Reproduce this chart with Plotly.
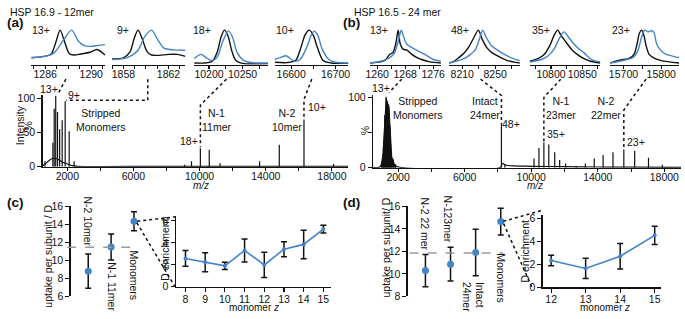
import plotly.graph_objects as go

W, H = 685, 319
FONT = "Liberation Sans, Arial, Helvetica, sans-serif"
BLUE = "#4384c9"
BLACK = "#111111"
GRAY = "#9a9a9a"

# ---------------- data ----------------
# (a) HSP 16.9 12mer full spectrum: peak m/z and relative intensity (%)
a_peak_mz = [650, 1127, 1207, 1300, 1408, 1536, 1690, 1872, 2112, 2413,
             9092, 9510, 10047, 10583, 11240, 13627, 14820, 16312, 18100]
a_peak_int = [8, 35, 85, 104, 80, 55, 68, 96, 52, 8,
              3, 8, 27, 25, 5, 8, 32, 69, 4]
a_base_mz = [500, 700, 900, 1100, 1300, 1500, 1700, 1900, 2100, 2300, 2600, 8000, 12000, 19000]
a_base_int = [1, 5, 9, 12, 12, 10, 7, 5, 3, 1.5, 0.6, 0.6, 0.6, 0.4]

# (b) HSP 16.5 24mer full spectrum
b_peak_mz = [1050, 1120, 1200, 1280, 1350, 1430, 1510, 1600, 1720, 1850, 8210, 8420,
             10168, 10464, 10761, 11057, 11413, 11710, 12066, 12700,
             13252, 13786, 14320, 14913, 15565, 16217, 17048, 17878]
b_peak_int = [10, 30, 75, 101, 95, 90, 60, 22, 12, 5, 64, 5,
              13, 28, 36, 33, 22, 11, 6, 2,
              6, 13, 18, 22, 26, 24, 14, 4]
# unresolved monomer envelope (filled)
b_env_mz = [980, 1040, 1100, 1150, 1200, 1250, 1290, 1340, 1400, 1460, 1510, 1560, 1620, 1700, 1780, 1860]
b_env_int = [0, 8, 22, 45, 70, 92, 99, 94, 91, 86, 62, 30, 16, 10, 5, 0]
b_base_mz = [500, 900, 1000, 1150, 1300, 1450, 1600, 1750, 1900, 2100, 8150, 8260, 8500,
             9000, 10000, 12000, 14000, 16000, 19000]
b_base_int = [0.5, 1, 5, 12, 15, 14, 10, 5, 2, 0.6, 0.6, 6, 3.5, 2.5, 2, 1.5, 1, 0.8, 0.3]

# insets (a): black = before, blue = after exchange (normalised)
a1_k_mz = [1284.8, 1285.9, 1286.5, 1286.9, 1287.3, 1287.7, 1288.1, 1288.5, 1289.1, 1289.9, 1290.5, 1291.2]
a1_k_i = [0.2, 0.24, 0.3, 0.62, 1.0, 0.65, 0.32, 0.28, 0.31, 0.36, 0.44, 0.28]
a1_b_mz = [1284.8, 1286.0, 1286.8, 1287.6, 1288.3, 1288.9, 1289.4, 1290.0, 1290.6, 1291.2]
a1_b_i = [0.21, 0.24, 0.35, 0.72, 1.0, 0.68, 0.55, 0.53, 0.56, 0.58]

a2_k_mz = [1857.0, 1858.0, 1858.6, 1858.95, 1859.3, 1859.7, 1860.1, 1860.5, 1861.0, 1862.0, 1862.8, 1863.5]
a2_k_i = [0.17, 0.2, 0.38, 0.75, 1.0, 0.72, 0.38, 0.28, 0.27, 0.3, 0.3, 0.24]
a2_b_mz = [1857.0, 1858.3, 1859.3, 1859.9, 1860.5, 1861.0, 1861.6, 1862.5, 1863.5]
a2_b_i = [0.15, 0.2, 0.42, 0.82, 1.0, 0.75, 0.48, 0.43, 0.42]

a3_k_mz = [10178, 10195, 10205, 10212, 10218, 10223, 10228, 10234, 10240, 10250, 10288]
a3_k_i = [0.05, 0.05, 0.1, 0.35, 0.8, 1.0, 0.85, 0.4, 0.12, 0.04, 0.03]
a3_b_mz = [10178, 10188, 10196, 10205, 10213, 10220, 10229, 10235, 10242, 10252, 10265, 10288]
a3_b_i = [0.18, 0.3, 0.2, 0.12, 0.25, 0.65, 0.98, 0.8, 0.35, 0.12, 0.06, 0.05]

a4_k_mz = [16563, 16590, 16610, 16622, 16632, 16641, 16650, 16659, 16672, 16690, 16729]
a4_k_i = [0.07, 0.06, 0.12, 0.5, 0.88, 1.0, 0.85, 0.5, 0.12, 0.05, 0.04]
a4_b_mz = [16563, 16578, 16588, 16598, 16607, 16620, 16635, 16645, 16652, 16660, 16670, 16685, 16700, 16729]
a4_b_i = [0.15, 0.22, 0.26, 0.18, 0.1, 0.15, 0.5, 0.85, 0.97, 0.85, 0.45, 0.15, 0.07, 0.05]

# insets (b)
b1_k_mz = [1258, 1261, 1262.5, 1263.6, 1264.5, 1265.3, 1266.0, 1266.6, 1267.4, 1268.5, 1269.9, 1271.5, 1272.7, 1275, 1278.2]
b1_k_i = [0.05, 0.08, 0.15, 0.3, 0.35, 0.6, 1.0, 0.6, 0.45, 0.42, 0.3, 0.2, 0.15, 0.08, 0.05]
b1_b_mz = [1258, 1261, 1263.6, 1265.0, 1266.2, 1266.9, 1267.6, 1268.4, 1270.7, 1273.6, 1276, 1278.2]
b1_b_i = [0.05, 0.1, 0.2, 0.35, 0.75, 1.0, 0.8, 0.6, 0.45, 0.3, 0.15, 0.1]

b2_k_mz = [8194, 8200, 8205.6, 8212, 8217.6, 8224, 8229.6, 8234, 8239.6, 8246, 8253.5, 8265, 8280]
b2_k_i = [0.05, 0.1, 0.2, 0.33, 0.5, 0.78, 1.0, 0.75, 0.5, 0.35, 0.25, 0.12, 0.05]
b2_b_mz = [8194, 8205, 8214, 8220, 8225.6, 8231, 8234.8, 8239, 8245.6, 8251, 8257.6, 8269.6, 8280]
b2_b_i = [0.05, 0.12, 0.2, 0.3, 0.42, 0.75, 1.0, 0.8, 0.55, 0.45, 0.35, 0.2, 0.12]

b3_k_mz = [10766, 10780, 10789.5, 10798, 10805, 10810.5, 10816, 10826.3, 10834, 10842, 10852, 10863, 10879]
b3_k_i = [0.1, 0.18, 0.3, 0.55, 0.85, 1.0, 0.85, 0.6, 0.42, 0.3, 0.18, 0.1, 0.05]
b3_b_mz = [10766, 10785, 10795, 10805, 10813, 10820.9, 10828, 10836.7, 10845, 10852.4, 10865, 10879]
b3_b_i = [0.08, 0.15, 0.25, 0.45, 0.75, 0.95, 0.8, 0.6, 0.45, 0.35, 0.15, 0.08]

b4_k_mz = [15665, 15685, 15700, 15715, 15728, 15736, 15742, 15748, 15754, 15760, 15768, 15780, 15800, 15848]
b4_k_i = [0.05, 0.12, 0.15, 0.18, 0.3, 0.6, 0.9, 1.0, 0.85, 0.55, 0.3, 0.2, 0.12, 0.05]
b4_b_mz = [15665, 15690, 15710, 15725, 15738, 15748, 15756, 15765, 15772, 15780, 15788, 15800, 15813, 15830, 15848]
b4_b_i = [0.05, 0.1, 0.15, 0.2, 0.4, 0.8, 1.0, 0.95, 0.98, 0.95, 0.6, 0.4, 0.3, 0.25, 0.2]

# (c) uptake per subunit
c_labels = ["N-2 10mer", "N-1 11mer", "Monomers"]
c_uptake = [8.8, 11.5, 14.35]
c_uptake_err = [1.9, 1.45, 1.05]
c_average = 11.46
c_z = [8, 9, 10, 11, 12, 13, 14, 15]
c_enrich = [2.58, 2.23, 1.9, 3.31, 1.99, 3.42, 3.86, 5.26]
c_enrich_err = [0.72, 0.87, 0.33, 1.05, 1.15, 0.68, 1.3, 0.35]

# (d)
d_labels = ["N-2 22 mer", "N-123mer", "Intact<br>24mer", "Monomers"]
d_uptake = [10.29, 10.86, 11.91, 14.66]
d_uptake_err = [1.43, 1.5, 2.07, 1.19]
d_average = 11.86
d_z = [12, 13, 14, 15]
d_enrich = [2.35, 1.65, 2.71, 4.54]
d_enrich_err = [0.46, 0.88, 1.12, 0.8]

main_xticks = [2000, 4000, 6000, 8000, 10000, 12000, 14000, 16000, 18000]
main_xtext = ["2000", "", "6000", "", "10000", "", "14000", "", "18000"]

# ---------------- helpers ----------------
fig = go.Figure()
AXX, AXY, LAY = {}, {}, {}


def sfx(i):
    return "" if i == 1 else str(i)


def add_axes(i, xpx, xr, ypx, yr, xopts=None, yopts=None):
    AXX[i] = (xpx[0], xpx[1], xr[0], xr[1])
    AXY[i] = (ypx[0], ypx[1], yr[0], yr[1])
    base = dict(showgrid=False, zeroline=False, showline=True, linecolor=BLACK, linewidth=1.3,
                ticks="outside", ticklen=3, tickwidth=1.1, tickcolor=BLACK, tickangle=0,
                tickfont=dict(size=10.5, color=BLACK, family=FONT), fixedrange=True)
    xa = dict(base, domain=[xpx[0] / W, xpx[1] / W], range=list(xr), anchor="y" + sfx(i))
    ya = dict(base, domain=[1 - ypx[0] / H, 1 - ypx[1] / H], range=list(yr), anchor="x" + sfx(i))
    if xopts:
        xa.update(xopts)
    if yopts:
        ya.update(yopts)
    LAY["xaxis" + sfx(i)] = xa
    LAY["yaxis" + sfx(i)] = ya


def mx(i, v):
    lo, hi, r0, r1 = AXX[i]
    return lo + (v - r0) / (r1 - r0) * (hi - lo)


def my(i, v):
    bot, top, r0, r1 = AXY[i]
    return bot - (v - r0) / (r1 - r0) * (bot - top)


def trace(i, **kw):
    fig.add_trace(go.Scatter(xaxis="x" + sfx(i), yaxis="y" + sfx(i), showlegend=False,
                             hoverinfo="skip", **kw))


def sticks(i, mz, inten):
    xs, ys = [], []
    for m, v in zip(mz, inten):
        xs += [m, m, None]
        ys += [0, v, None]
    trace(i, x=xs, y=ys, mode="lines", line=dict(color=BLACK, width=1.2))


annotations, shapes = [], []


def ann(text, x, y, size=10.5, angle=0, xanchor="center", yanchor="middle", align="center"):
    annotations.append(dict(text=text, x=x / W, y=1 - y / H, xref="paper", yref="paper",
                            showarrow=False, textangle=angle, xanchor=xanchor, yanchor=yanchor,
                            align=align, font=dict(size=size, color=BLACK, family=FONT)))


def dotted(points):
    path = "M " + " L ".join(f"{x / W:.5f},{1 - y / H:.5f}" for x, y in points)
    shapes.append(dict(type="path", path=path, xref="paper", yref="paper",
                       line=dict(color=BLACK, width=1.5, dash="dot")))


def dashed(x0, x1, y):
    shapes.append(dict(type="line", x0=x0 / W, x1=x1 / W, y0=1 - y / H, y1=1 - y / H,
                       xref="paper", yref="paper", line=dict(color=GRAY, width=1.5, dash="dash")))


# ---------------- main spectra ----------------
main_x = dict(tickvals=main_xticks, ticktext=main_xtext, ticklabelstandoff=-4)
add_axes(1, (38, 348), (500, 19000), (167, 92.5), (0, 105), main_x,
         dict(tickvals=[0, 50, 100], ticktext=["0", "50", "100"], ticklen=4))
add_axes(2, (373, 685), (500, 19000), (168, 92.8), (0, 103), main_x,
         dict(tickvals=[0, 50, 100], ticktext=["0", "", "100"], ticklen=4))
trace(1, x=a_base_mz, y=a_base_int, mode="lines", line=dict(color=BLACK, width=1.2, shape="spline"))
sticks(1, a_peak_mz, a_peak_int)
trace(2, x=b_base_mz, y=b_base_int, mode="lines", line=dict(color=BLACK, width=1.2, shape="spline"))
trace(2, x=b_env_mz, y=b_env_int, mode="lines", fill="tozeroy", fillcolor=BLACK,
      line=dict(color=BLACK, width=1))
sticks(2, b_peak_mz, b_peak_int)

# ---------------- insets ----------------
inset_specs = [
    (3, (26.7, 101.7), (1284.8, 1291.23), [1285, 1286, 1287, 1288, 1289, 1290, 1291], {1286, 1290},
     a1_k_mz, a1_k_i, a1_b_mz, a1_b_i),
    (4, (108.3, 182.7), (1856.98, 1863.49), [1857, 1858, 1859, 1860, 1861, 1862, 1863], {1858, 1862},
     a2_k_mz, a2_k_i, a2_b_mz, a2_b_i),
    (5, (191.7, 266.7), (10177.9, 10288.2), [10200, 10225, 10250, 10275], {10200, 10250},
     a3_k_mz, a3_k_i, a3_b_mz, a3_b_i),
    (6, (273.3, 348), (16563, 16729), [16600, 16650, 16700], {16600, 16700},
     a4_k_mz, a4_k_i, a4_b_mz, a4_b_i),
    (7, (370, 441.7), (1258.0, 1278.2), [1260, 1264, 1268, 1272, 1276], {1260, 1268, 1276},
     b1_k_mz, b1_k_i, b1_b_mz, b1_b_i),
    (8, (450, 521.7), (8194, 8280), [8210, 8230, 8250, 8270], {8210, 8250},
     b2_k_mz, b2_k_i, b2_b_mz, b2_b_i),
    (9, (531.7, 603.3), (10766, 10879), [10775, 10800, 10825, 10850, 10875], {10800, 10850},
     b3_k_mz, b3_k_i, b3_b_mz, b3_b_i),
    (10, (613.3, 683.3), (15665, 15848), [15700, 15750, 15800], {15700, 15800},
     b4_k_mz, b4_k_i, b4_b_mz, b4_b_i),
]
for i, xpx, xr, tv, lab, kx, ky, bx, by in inset_specs:
    add_axes(i, xpx, xr, (61, 24), (0, 1.03),
             dict(tickvals=tv, ticktext=[str(t) if t in lab else "" for t in tv], linewidth=1.6,
                  ticklabelstandoff=-4),
             dict(visible=False))
    trace(i, x=kx, y=ky, mode="lines", line=dict(color=BLACK, width=1.4, shape="spline", smoothing=0.8))
    trace(i, x=bx, y=by, mode="lines", line=dict(color=BLUE, width=1.4, shape="spline", smoothing=0.8))

# ---------------- (c) and (d) ----------------
add_axes(11, (66.7, 140), (0.24, 3.4), (301.7, 208.3), (6, 16), dict(visible=False),
         dict(tickvals=[6, 8, 10, 12, 14, 16], ticklen=4, linewidth=1.5))
add_axes(12, (173.3, 330), (7.52, 15.37), (291.7, 219), (0, 6.38),
         dict(tickvals=c_z, ticklen=4, linewidth=1.5, ticklabelstandoff=-2),
         dict(tickvals=[0, 2, 4, 6], ticklen=4, linewidth=1.5))
add_axes(13, (408.3, 512), (0.303, 4.38), (301.7, 208.3), (8, 16), dict(visible=False),
         dict(tickvals=[8, 10, 12, 14, 16], ticklen=4, linewidth=1.5))
add_axes(14, (545, 665), (11.76, 15.19), (292.3, 216.7), (0, 6.36),
         dict(tickvals=d_z, ticklen=4, linewidth=1.5, ticklabelstandoff=-2),
         dict(tickvals=[0, 2, 4, 6], ticklen=4, linewidth=1.5))

errb = lambda arr: dict(type="data", array=arr, color=BLACK, thickness=1.5, width=3)
c_pos = list(range(1, len(c_labels) + 1))
d_pos = list(range(1, len(d_labels) + 1))

# dashed average lines
dashed(63, mx(11, c_pos[-1]) + 2.5, my(11, c_average))
dashed(410, mx(13, d_pos[-1]) + 2.5, my(13, d_average))

trace(11, x=c_pos, y=c_uptake, mode="markers", error_y=errb(c_uptake_err),
      marker=dict(color=BLUE, size=7))
trace(12, x=c_z, y=c_enrich, mode="lines+markers", error_y=errb(c_enrich_err),
      line=dict(color=BLUE, width=1.6), marker=dict(color=BLUE, size=4))
trace(13, x=d_pos, y=d_uptake, mode="markers", error_y=errb(d_uptake_err),
      marker=dict(color=BLUE, size=7))
trace(14, x=d_z, y=d_enrich, mode="lines+markers", error_y=errb(d_enrich_err),
      line=dict(color=BLUE, width=1.6), marker=dict(color=BLUE, size=4))

# ---------------- connectors ----------------
def mid(a, b):
    return (a + b) / 2

# (a)
dotted([(mx(3, mid(1287.3, 1288.3)), 76), (mx(1, a_peak_mz[3]) + 3, 90)])
dotted([(mx(4, mid(1859.3, 1860.5)) + 3, 76), (mx(4, mid(1859.3, 1860.5)) + 3, my(1, a_peak_int[7]) - 1),
        (mx(1, a_peak_mz[7]) + 1, my(1, a_peak_int[7]) - 1)])
dotted([(mx(5, mid(10223, 10229)), 76), (mx(1, a_peak_mz[12]), 103), (mx(1, a_peak_mz[12]), my(1, a_peak_int[12]) - 1)])
dotted([(mx(6, mid(16641, 16652)), 76), (mx(1, a_peak_mz[17]), 97), (mx(1, a_peak_mz[17]), my(1, a_peak_int[17]) - 1)])
# (b)
dotted([(mx(7, mid(1266.0, 1266.9)) + 2, 76), (mx(2, b_peak_mz[3]) + 3, 90)])
dotted([(mx(8, mid(8229.6, 8234.8)), 76), (mx(2, b_peak_mz[10]), 93), (mx(2, b_peak_mz[10]), my(2, b_peak_int[10]) - 1)])
dotted([(mx(9, mid(10810.5, 10820.9)), 76), (mx(2, b_peak_mz[14]), 95), (mx(2, b_peak_mz[14]), my(2, b_peak_int[14]) - 1)])
dotted([(mx(10, mid(15748, 15756)) + 3, 76), (mx(2, b_peak_mz[24]), 108), (mx(2, b_peak_mz[24]), my(2, b_peak_int[24]) - 1)])
# (c), (d)
cpx, cpy = mx(11, c_pos[-1]) + 2, my(11, c_uptake[-1])
dotted([(mx(12, 7.52), my(12, 6.38)), (cpx, cpy), (mx(12, 7.52) - 1, my(12, 0))])
dpx, dpy = mx(13, d_pos[-1]) + 2, my(13, d_uptake[-1])
dotted([(mx(14, 11.76) - 2, my(14, 6.36) - 4), (dpx, dpy), (mx(14, 11.76) - 11, my(14, 0))])

# ---------------- text ----------------
ann("HSP 16.9 - 12mer", 3, 6, size=10.5, xanchor="left")
ann("HSP 16.5 - 24 mer", 352, 6, size=10.5, xanchor="left")
ann("<b>(a)</b>", 0, 17, size=13.5, xanchor="left")
ann("<b>(b)</b>", 340, 17, size=13.5, xanchor="left")
ann("<b>(c)</b>", 0, 204, size=13.5, xanchor="left")
ann("<b>(d)</b>", 340, 204, size=13.5, xanchor="left")

for txt, x in [("13+", 25), ("9+", 111), ("18+", 188), ("10+", 273),
               ("13+", 368), ("48+", 450), ("35+", 532), ("23+", 613)]:
    ann(txt, x, 25, xanchor="left")

ann("13+", 45, 86)
ann("9+", 70, 92)
ann("Stripped<br>Monomers", 97, 118)
ann("18+", 186, 140)
ann("N-1<br>11mer", 214, 118)
ann("N-2<br>10mer", 286, 118)
ann("10+", 316, 105)
ann("Intensity", 16, 124, angle=-90)
ann("%", 23.5, 125, angle=-90)
ann("<i>m/z</i>", 199, 186, size=10)

ann("13+", 381, 85)
ann("Stripped<br>Monomers", 418, 106)
ann("Intact<br>24mer", 486, 106)
ann("48+", 513, 123)
ann("N-1<br>23mer", 563, 106)
ann("35+", 558, 133)
ann("N-2<br>22mer", 609, 106)
ann("23+", 639, 141)
ann("%", 365, 130, angle=-90)
ann("<i>m/z</i>", 537, 186, size=10)

# (c) labels
ann("uptake per subunit / D", 44, 260, angle=-90)
ann(c_labels[0], 84.3, 224, angle=90)
ann(c_labels[1], 108.3, 292, angle=90)
ann(c_labels[2], 130.7, 280, angle=90)
ann("D enrichment", 162.5, 253, angle=-90)
ann("monomer <i>z</i>", 252, 313.5, size=10)

# (d) labels
ann("uptake per subunit/ D", 386, 251, angle=-90)
ann(d_labels[0], 426, 226.5, angle=90)
ann(d_labels[1], 449, 221, angle=90)
ann(d_labels[2], 475, 302, angle=90, align="left")
ann(d_labels[3], 502.3, 282.5, angle=90)
ann("D enrichment", 527, 255, angle=-90)
ann("monomer <i>z</i>", 608, 313.5, size=10)

fig.update_layout(width=W, height=H, margin=dict(l=0, r=0, t=0, b=0),
                  paper_bgcolor="white", plot_bgcolor="rgba(0,0,0,0)",
                  font=dict(family=FONT, color=BLACK, size=10.5),
                  annotations=annotations, shapes=shapes, showlegend=False, **LAY)
fig.write_html("out.html", config={"displayModeBar": False, "staticPlot": True},
               post_script="document.body.style.margin='0';document.body.style.padding='0';"
                           "document.body.style.overflow='hidden';")
